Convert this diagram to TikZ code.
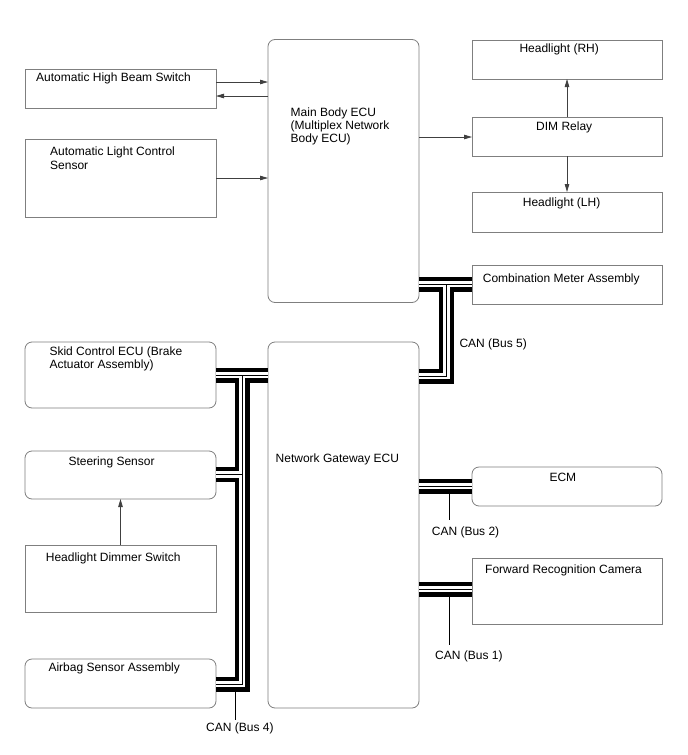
\documentclass[tikz,border=0pt]{standalone}
\usepackage{fontspec}
\setmainfont{Liberation Sans}
\usetikzlibrary{arrows.meta}
\definecolor{boxgray}{HTML}{7F7F7F}
\definecolor{arrgray}{HTML}{404040}
\begin{document}
\begin{tikzpicture}[x=1pt,y=-1pt,
  box/.style={draw=boxgray, line width=0.8pt, inner sep=0pt, outer sep=0pt, anchor=north west},
  rbox/.style={box, rounded corners=7pt},
  txt/.style={anchor=base west, inner sep=0pt, font=\fontsize{12}{13.5}\selectfont},
  arr/.style={draw=arrgray, line width=0.8pt, -{Triangle[length=8pt,width=4.5pt]}},
  canbus/.style={draw=black, line width=15pt, postaction={draw=white, line width=6.5pt}, postaction={draw=black, line width=1pt}},
  leader/.style={draw=black, line width=0.8pt}]
\useasboundingbox (0,0) rectangle (688,755);
\fill[white] (0,0) rectangle (688,755);

% boxes
\node[box, minimum width=191pt, minimum height=39pt] (ahbs) at (25,69) {};
\node[box, minimum width=191pt, minimum height=78pt] (alcs) at (25,139) {};
\node[rbox, minimum width=151pt, minimum height=263pt] (main) at (268,39.5) {};
\node[box, minimum width=190pt, minimum height=39pt] (hrh) at (472,40) {};
\node[box, minimum width=190pt, minimum height=39pt] (dim) at (472,117) {};
\node[box, minimum width=190pt, minimum height=40pt] (hlh) at (472,192) {};
\node[box, minimum width=190pt, minimum height=39pt] (comb) at (472,265) {};
\node[rbox, minimum width=191pt, minimum height=66pt] (skid) at (25,342) {};
\node[rbox, minimum width=151pt, minimum height=366pt] (gw) at (268,342) {};
\node[rbox, minimum width=191pt, minimum height=48pt] (steer) at (25,451) {};
\node[box, minimum width=191pt, minimum height=67pt] (hds) at (25,545) {};
\node[rbox, minimum width=191pt, minimum height=49pt] (airbag) at (25,659) {};
\node[rbox, minimum width=190pt, minimum height=39pt] (ecm) at (472,467) {};
\node[box, minimum width=190pt, minimum height=66pt] (cam) at (472,558) {};

% arrows
\draw[arr] (ahbs.east |- 0,82) -- (main.west |- 0,82);
\draw[arr] (main.west |- 0,96) -- (ahbs.east |- 0,96);
\draw[arr] (alcs.east |- 0,178) -- (main.west |- 0,178);
\draw[arr] (main.east |- 0,137) -- (dim.west |- 0,137);
\draw[arr] (dim.north) -- (hrh.south);
\draw[arr] (dim.south) -- (hlh.north);
\draw[arr] (hds.north) -- (steer.south);

% bus coordinates
\coordinate (j5) at (446.5,284);
\coordinate (k5) at (446.5,376);
\coordinate (j4) at (242,375);
\coordinate (s4) at (242,474.5);
\coordinate (k4) at (242,684);
\coordinate (c2) at (449,486);
\coordinate (c1) at (449,589);
\coordinate (l4) at (235,720);
\coordinate (l2) at (449,520);
\coordinate (l1) at (449,645);

% leaders
\draw[leader] (l4 |- k4) -- (l4);
\draw[leader] (c2) -- (l2);
\draw[leader] (c1) -- (l1);

% CAN buses
\draw[canbus] (main.east |- j5) -- (comb.west |- j5) (j5) -- (k5) -- (gw.east |- k5);
\draw[canbus] (gw.west |- j4) -- (skid.east |- j4) (j4) -- (k4) -- (airbag.east |- k4) (s4) -- (steer.east |- s4);
\draw[canbus] (gw.east |- c2) -- (ecm.west |- c2);
\draw[canbus] (gw.east |- c1) -- (cam.west |- c1);

% texts
\node[txt] (t1) at (36,81) {Automatic High Beam Switch};
\node[txt] (t2a) at (50,155) {Automatic Light Control};
\node[txt] (t2b) at (50,169) {Sensor};
\node[txt] (t3a) at (290.5,116.5) {Main Body ECU};
\node[txt] (t3b) at (290.5,129.5) {(Multiplex Network};
\node[txt] (t3c) at (290.5,142.5) {Body ECU)};
\node[txt] (t4) at (519.3,52.5) {Headlight (RH)};
\node[txt] (t5) at (536,130) {DIM Relay};
\node[txt] (t6) at (522.7,206.5) {Headlight (LH)};
\node[txt] (t7) at (482.7,282.3) {Combination Meter Assembly};
\node[txt] (t8) at (459.3,347.5) {CAN (Bus 5)};
\node[txt] (t9a) at (49.3,355) {Skid Control ECU (Brake};
\node[txt] (t9b) at (49.3,368.3) {Actuator Assembly)};
\node[txt] (t10) at (68.3,465) {Steering Sensor};
\node[txt] (t11) at (275.5,462) {Network Gateway ECU};
\node[txt] (t12) at (45.7,561.5) {Headlight Dimmer Switch};
\node[txt] (t13) at (48.3,671.5) {Airbag Sensor Assembly};
\node[txt] (t14) at (206,731.5) {CAN (Bus 4)};
\node[txt] (t15) at (549.3,481.5) {ECM};
\node[txt] (t16) at (431.7,535) {CAN (Bus 2)};
\node[txt] (t17) at (485,573.3) {Forward Recognition Camera};
\node[txt] (t18) at (435,659) {CAN (Bus 1)};
\end{tikzpicture}
\end{document}
